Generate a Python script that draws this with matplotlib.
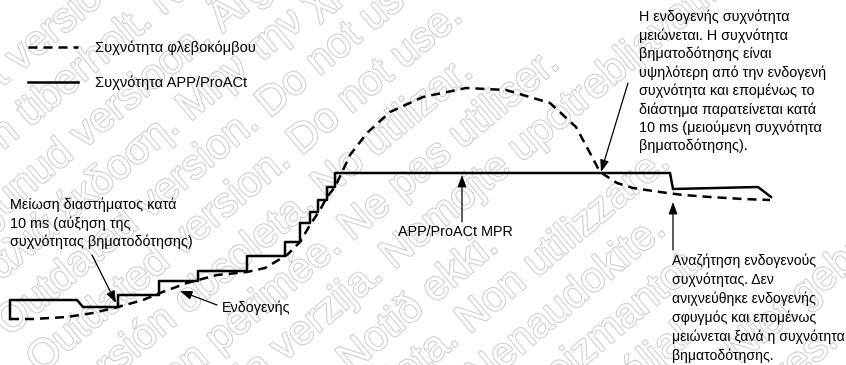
import numpy as np
import matplotlib
matplotlib.use("Agg")
import matplotlib.pyplot as plt
import matplotlib.patheffects as pe

plt.rcParams['font.family'] = ['Liberation Sans', 'DejaVu Sans']
plt.rcParams['lines.scale_dashes'] = False

## Données (axe horizontal = temps, axe vertical = fréquence, en unités image)

# fréquence sinusale (pointillés)
sinus_t = [10, 33, 67, 93, 118, 143, 160, 187, 217, 247, 265, 287, 300, 310, 320, 327,
           335, 343, 350, 367, 390, 423, 466, 506, 550, 576, 590, 600, 617, 633, 660,
           683, 710, 743, 770]
sinus_r = [319, 319, 317, 313, 307, 300, 293, 283, 275, 272, 268, 255, 242, 225, 210, 197,
           187, 170, 155, 133, 112, 97, 88, 90, 103, 127, 153, 172, 183, 188, 192,
           195, 197, 199, 200]

# fréquence APP/ProACt (trait plein, en escalier)
pace_t = [10, 10, 77, 83, 118, 118, 159, 159, 198, 198, 247, 247, 285, 285, 300, 300,
          310, 310, 318, 318, 327, 327, 335, 335, 670, 673, 758, 771]
pace_r = [319, 300, 300, 307, 307, 295, 295, 281, 281, 271, 271, 256, 256, 242, 242, 223,
          223, 212, 212, 200, 200, 187, 187, 173, 173, 189, 187, 197]

legend_labels = ["Συχνότητα φλεβοκόμβου", "Συχνότητα APP/ProACt"]

txt_top_right = ("Η ενδογενής συχνότητα\n"
                 "μειώνεται. Η συχνότητα\n"
                 "βηματοδότησης είναι\n"
                 "υψηλότερη από την ενδογενή\n"
                 "συχνότητα και επομένως το\n"
                 "διάστημα παρατείνεται κατά\n"
                 "10 ms (μειούμενη συχνότητα\n"
                 "βηματοδότησης).")
txt_left = ("Μείωση διαστήματος κατά\n"
            "10 ms (αύξηση της\n"
            "συχνότητας βηματοδότησης)")
txt_endo = "Ενδογενής"
txt_mpr = "APP/ProACt MPR"
txt_bottom_right = ("Αναζήτηση ενδογενούς\n"
                    "συχνότητας. Δεν\n"
                    "ανιχνεύθηκε ενδογενής\n"
                    "σφυγμός και επομένως\n"
                    "μειώνεται ξανά η συχνότητα\n"
                    "βηματοδότησης.")

# filigrane
wm_lines = ["Forældet version. Må ikke anvendes.",
            "Version überholt. Nicht verwenden.",
            "Aegunud versioon. Ärge kasutage.",
            "Παλιά έκδοση. Μην την χρησιμοποιείτε.",
            "Outdated version. Do not use.",
            "Outdated version. Do not use.",
            "Versión obsoleta. No utilizar.",
            "Version périmée. Ne pas utiliser.",
            "Zastarjela verzija. Nemojte upotrebljavati.",
            "Úrelt útgáfa. Notið ekki.",
            "Versione obsoleta. Non utilizzare.",
            "Pasenusi versija. Nenaudokite.",
            "Novecojusi versija. Neizmantot.",
            "Elavult verzió. Ne használja!",
            "Dit is een verouderde versie. Niet gebruiken.",
            "Utdatert versjon. Skal ikke brukes.",
            "Wersja przeterminowana. Nie używać."]

## Figure
fig = plt.figure(figsize=(8.46, 3.65), dpi=100)
ax = fig.add_axes([0, 0, 1, 1])
ax.set_xlim(0, 846)
ax.set_ylim(365, 0)
ax.axis('off')

# filigrane tourné
ang = np.deg2rad(40)
for k, s in enumerate(wm_lines):
    u = 57 + 49 * k
    t = -210
    x = t * np.cos(ang) + u * np.sin(ang)
    y = -t * np.sin(ang) + u * np.cos(ang)
    ax.text(x, y, s, rotation=40, rotation_mode='anchor', ha='left', va='center',
            fontsize=30, color='white', zorder=0,
            path_effects=[pe.Stroke(linewidth=1.5, foreground='#cdcdcd'), pe.Normal()])

l1, = ax.plot(sinus_t, sinus_r, color='black', lw=1.8, linestyle=(0, (6.5, 4.3)), zorder=3)
l2, = ax.plot(pace_t, pace_r, color='black', lw=1.8, zorder=4)

ax.legend([l1, l2], legend_labels, loc='upper left', bbox_to_anchor=(0.033, 0.89),
          frameon=False, fontsize=10.5, handlelength=3.4, handletextpad=1.2,
          labelspacing=1.45, borderpad=0, borderaxespad=0)

fs = 10.4
ls = 1.34
ax.text(639, 10, txt_top_right, ha='left', va='top', fontsize=fs, linespacing=ls, zorder=5)
ax.text(10, 198, txt_left, ha='left', va='top', fontsize=fs, linespacing=ls, zorder=5)
ax.text(222, 308, txt_endo, ha='left', va='center', fontsize=fs, zorder=5)
ax.text(398, 232, txt_mpr, ha='left', va='center', fontsize=fs, zorder=5)
ax.text(672, 254, txt_bottom_right, ha='left', va='top', fontsize=10.1, linespacing=1.38, zorder=5)

# flèches
arr = dict(arrowstyle='-|>,head_length=0.6,head_width=0.22', color='black', lw=0.9,
           shrinkA=0, shrinkB=0, mutation_scale=12)
ax.annotate('', xy=(116, 303), xytext=(92, 255), arrowprops=arr, zorder=5)
ax.annotate('', xy=(180, 291), xytext=(217, 305), arrowprops=arr, zorder=5)
ax.annotate('', xy=(462, 175), xytext=(462, 222), arrowprops=arr, zorder=5)
ax.annotate('', xy=(601, 172), xytext=(628, 83), arrowprops=arr, zorder=5)
ax.annotate('', xy=(673, 202), xytext=(673, 250), arrowprops=arr, zorder=5)

fig.savefig("out.png", dpi=100)
